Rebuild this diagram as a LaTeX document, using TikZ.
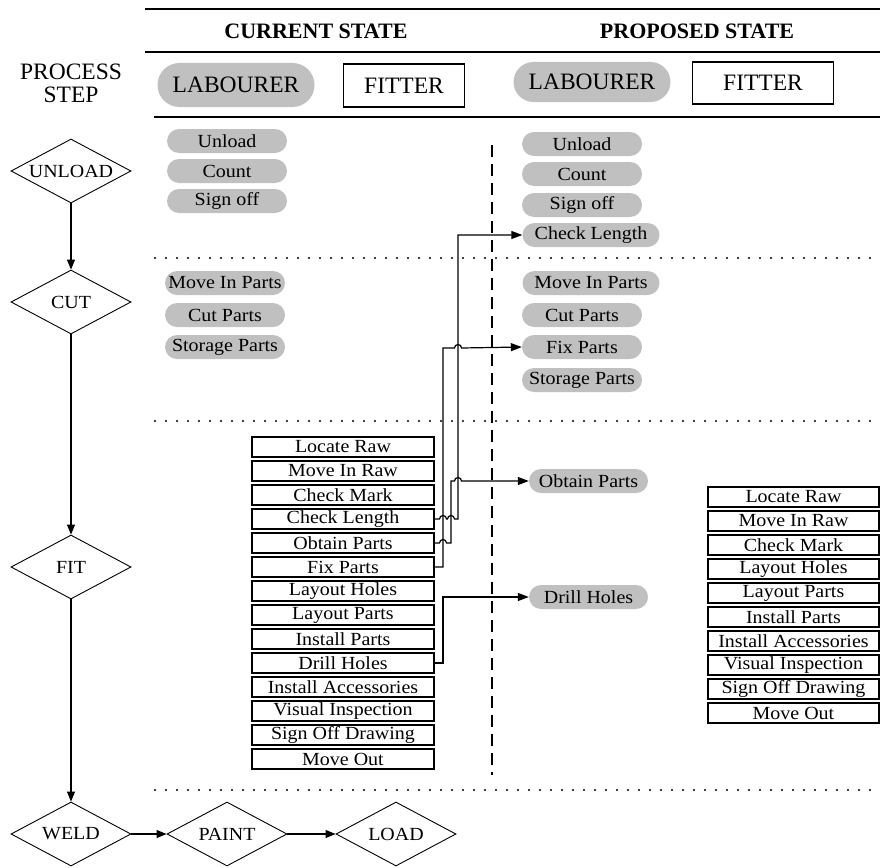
\documentclass[tikz,border=0pt]{standalone}
\usepackage{fontspec}
\setmainfont{Liberation Serif}
\newfontfamily\bodyfont[FakeStretch=1.08]{Liberation Serif}
\usetikzlibrary{shapes.geometric,arrows.meta}
\definecolor{pillgray}{RGB}{192,192,192}
\begin{document}
\begin{tikzpicture}[x=1pt,y=-1pt,
 body/.style={font=\bodyfont\fontsize{18.5}{20}\selectfont},
 hdr/.style={font=\fontsize{23.5}{23}\selectfont},
 pill/.style={body, fill=pillgray, rounded corners=12pt, minimum width=120pt, minimum height=24pt, inner sep=0pt},
 pillw/.style={pill, minimum width=137pt},
 tbox/.style={body, draw, line width=1.1pt, minimum width=182pt, minimum height=20pt, inner sep=0pt},
 rbox/.style={tbox, minimum width=171pt},
 stepd/.style={diamond, draw, line width=0.9pt, aspect=1.875, minimum width=120pt, minimum height=64pt, inner sep=0pt, body},
 flow/.style={line width=1.1pt, -{Triangle[length=10pt,width=8pt]}},
 link/.style={line width=1.2pt, -{Triangle[length=11pt,width=8pt]}},
 dotline/.style={line width=2.2pt, line cap=round, dash pattern=on 0pt off 11pt},
 rule/.style={line width=1.5pt},
 hpill/.style={hdr, fill=pillgray, inner sep=0pt},
 hbox/.style={hdr, draw, line width=1.1pt, inner sep=0pt}
]
\useasboundingbox (0,0) rectangle (880,867);

% header rules
\draw[rule] (145,9) -- (880,9);
\draw[rule] (145,52) -- (880,52);
\draw[rule] (154,117) -- (880,117);

\node[font=\bfseries\fontsize{22}{22}\selectfont] (cur) at (316,31) {CURRENT STATE};
\node[font=\bfseries\fontsize{22}{22}\selectfont] (prop) at (697,31) {PROPOSED STATE};
\node[hdr, align=center] (pstep) at (71,83) {PROCESS\\STEP};

\node[hpill, rounded corners=22pt, minimum width=157pt, minimum height=44pt] (lab1) at (236,85) {LABOURER};
\node[hbox, minimum width=121pt, minimum height=43pt] (fit1) at (404,85.5) {FITTER};
\node[hpill, rounded corners=20pt, minimum width=157pt, minimum height=40pt] (lab2) at (592,82) {LABOURER};
\node[hbox, minimum width=141pt, minimum height=42pt] (fit2) at (763,83) {FITTER};

% dotted separators
\draw[dotline] (155,258) -- (880,258);
\draw[dotline] (155,421) -- (880,421);
\draw[dotline] (155,790) -- (880,790);

% dashed divider
\draw[line width=2pt, dash pattern=on 12pt off 7pt] (492,145) -- (492,775);

% process diamonds
\node[stepd] (unload) at (71,171) {UNLOAD};
\node[stepd] (cut) at (71,302) {CUT};
\node[stepd] (fit) at (71,567) {FIT};
\node[stepd] (weld) at (71,834) {WELD};
\node[stepd] (paint) at (227,834) {PAINT};
\node[stepd] (load) at (396,834) {LOAD};
\draw[flow] (unload.south) -- (cut.north);
\draw[flow] (cut.south) -- (fit.north);
\draw[flow] (fit.south) -- (weld.north);
\draw[flow] (weld.east) -- (paint.west);
\draw[flow] (paint.east) -- (load.west);

% current state labourer
\node[pill] (cu1) at (227,141) {Unload};
\node[pill] (cu2) at (227,171) {Count};
\node[pill] (cu3) at (227,201) {Sign off};
\node[pill] (cc1) at (225,283) {Move In Parts};
\node[pill] (cc2) at (225,315) {Cut Parts};
\node[pill] (cc3) at (225,347) {Storage Parts};

% proposed state labourer
\node[pill] (pu1) at (582,144) {Unload};
\node[pill] (pu2) at (582,174) {Count};
\node[pill] (pu3) at (582,205) {Sign off};
\node[pillw] (pcl) at (591,235) {Check Length};
\node[pillw] (pc1) at (591,283) {Move In Parts};
\node[pill] (pc2) at (582,315) {Cut Parts};
\node[pill] (pfp) at (582,347) {Fix Parts};
\node[pill] (pc4) at (582,380) {Storage Parts};
\node[pill, minimum width=119pt] (pop) at (588.5,481) {Obtain Parts};
\node[pill, minimum width=119pt] (pdh) at (588.5,597) {Drill Holes};

% current state fitter
\node[tbox] (l1) at (343,447) {Locate Raw};
\node[tbox] (l2) at (343,471) {Move In Raw};
\node[tbox] (l3) at (343,495) {Check Mark};
\node[tbox] (lcl) at (343,519) {Check Length};
\node[tbox] (lop) at (343,543) {Obtain Parts};
\node[tbox] (lfp) at (343,567) {Fix Parts};
\node[tbox] (l7) at (343,591) {Layout Holes};
\node[tbox] (l8) at (343,615) {Layout Parts};
\node[tbox] (l9) at (343,639) {Install Parts};
\node[tbox] (ldh) at (343,663) {Drill Holes};
\node[tbox] (l11) at (343,687) {Install Accessories};
\node[tbox] (l12) at (343,711) {Visual Inspection};
\node[tbox] (l13) at (343,735) {Sign Off Drawing};
\node[tbox] (l14) at (343,759) {Move Out};

% proposed state fitter
\node[rbox] (r1) at (793.5,497) {Locate Raw};
\node[rbox] (r2) at (793.5,521) {Move In Raw};
\node[rbox] (r3) at (793.5,545) {Check Mark};
\node[rbox] (r4) at (793.5,569) {Layout Holes};
\node[rbox] (r5) at (793.5,593) {Layout Parts};
\node[rbox] (r6) at (793.5,617) {Install Parts};
\node[rbox] (r7) at (793.5,641) {Install Accessories};
\node[rbox] (r8) at (793.5,665) {Visual Inspection};
\node[rbox] (r9) at (793.5,689) {Sign Off Drawing};
\node[rbox] (r10) at (793.5,713) {Move Out};

% transfers
\draw[link] (lcl.east) -- (439.5,519) arc(180:360:3.5) -- (447.5,519) arc(180:360:3.5) -- (458,519) -- (458,235) -- (pcl.west);
\draw[link] (lop.east) -- (439.5,543) arc(180:360:3.5) -- (451,543) -- (451,481) -- (454.5,481) arc(180:360:3.5) -- (pop.west);
\draw[link] (lfp.east) -- (443,567) -- (443,348) -- (454.5,348) arc(180:360:3.5) -- (pfp.west);
\draw[link] (ldh.east) -- (443,663) -- (443,597) -- (pdh.west);
\end{tikzpicture}
\end{document}
